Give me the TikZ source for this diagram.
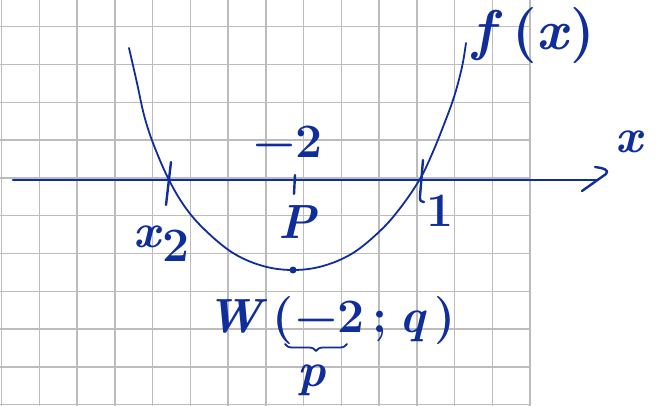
\documentclass[tikz,border=0pt]{standalone}
\usepackage{fontspec}
\setmainfont{Latin Modern Roman}
\usetikzlibrary{decorations.pathreplacing}
\definecolor{ink}{RGB}{15,45,155}
\definecolor{gridgray}{RGB}{188,188,188}
\begin{document}
\begin{tikzpicture}[x=1pt,y=-1pt,
  inkline/.style={draw=ink, line cap=round, line join=round},
  gridline/.style={draw=gridgray, line width=1.5pt},
  lab/.style={text=ink, inner sep=0pt, font=\fontsize{48}{52}\selectfont\bfseries}]
\useasboundingbox (0,0) rectangle (656,406);
\fill[white] (0,0) rectangle (656,406);
% grid
\foreach \i in {0,...,14} \draw[gridline] ({1.7+37.74*\i},0) -- ({1.7+37.74*\i},406);
\foreach \j in {0,...,10} \draw[gridline] (0,{26.7+37.8*\j}) -- (530,{26.7+37.8*\j});
% axis
\coordinate (axL) at (13,180);
\coordinate (axR) at (596,180);
\draw[inkline, line width=2.4pt] (axL) -- (axR);
\draw[inkline, line width=2.4pt] (595,167) .. controls (603,168) and (610,170) .. (606,174) -- (582,191);
% curve
\draw[inkline, line width=1.8pt] plot[smooth, tension=0.6] coordinates {
 (129,48) (137,83) (144,115) (153,143) (168,178) (185,207) (205,230) (233,253)
 (263,266) (293,270) (323,266) (353,253) (381,230) (401,207) (420,179) (432,154)
 (443,127) (454,97) (462,67) (466,43)};
\node[circle, fill=ink, inner sep=0pt, minimum size=7pt] (vert) at (293,270) {};
% ticks
\draw[inkline, line width=2.4pt] (171,162) -- (166,205);
\draw[inkline, line width=2.4pt] (295,175) -- (294,194);
\draw[inkline, line width=2.4pt] (423,160) -- (420,196) .. controls (420,201) .. (424,202);
% labels
\node[lab, font=\fontsize{56}{60}\selectfont\bfseries] (fx) at (534,36) {\textit{f}\,(\textit{x})};
\node[lab] (xl) at (630,142) {\textit{x}};
\node[lab] (m2) at (288,142) {−2};
\node[lab] (P) at (298,222) {\textit{P}};
\node[lab] (x2) at (162,244) {\textit{x}\raisebox{-14pt}{2}};
\node[lab] (one) at (440,211) {1};
\node[lab, anchor=base] (Wl) at (331,332) {\textit{W}\hspace{5pt}(\hspace{2pt}−2\hspace{8pt};\hspace{12pt}\textit{q}\hspace{8pt})};
\draw[inkline, line width=1.8pt, decorate, decoration={brace, mirror, amplitude=7pt}] (285,344) -- (347,344);
\node[lab] (p) at (312,380) {\textit{p}};
\end{tikzpicture}
\end{document}
